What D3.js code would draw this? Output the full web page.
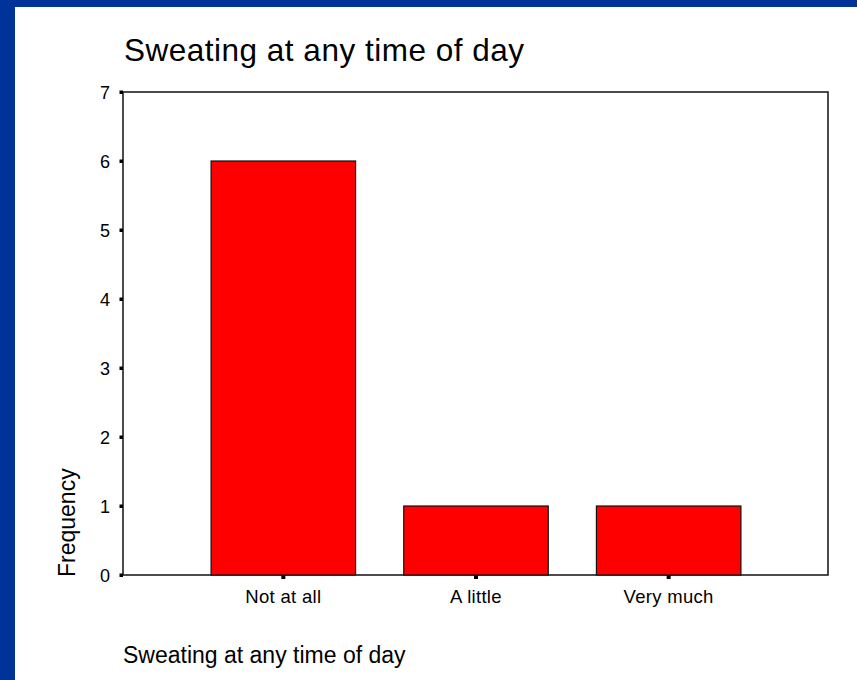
<!DOCTYPE html>
<html>
<head>
<meta charset="utf-8">
<script src="https://cdn.jsdelivr.net/npm/d3@7"></script>
<style>
  html, body { margin: 0; padding: 0; background: #ffffff; }
  svg { display: block; font-family: Arial, "Liberation Sans", sans-serif; }
</style>
</head>
<body>
<svg id="chart" width="857" height="680"></svg>
<script>
// Frequency of sweating responses
const categories = ["Not at all", "A little", "Very much"];
const frequencies = [6, 1, 1];
const yTicks = [0, 1, 2, 3, 4, 5, 6, 7];
const titleText = "Sweating at any time of day";
const xLabelText = "Sweating at any time of day";
const yLabelText = "Frequency";

const svg = d3.select("#chart");
const W = 857, H = 680;

// Blue slide frame along top and left edges
svg.append("rect").attr("x", 0).attr("y", 0).attr("width", W).attr("height", H).attr("fill", "#003399");
svg.append("rect").attr("x", 15).attr("y", 7).attr("width", W - 15).attr("height", H - 7).attr("fill", "#ffffff");

const plot = { left: 123, top: 92, right: 828, bottom: 575 };

const y = d3.scaleLinear().domain([0, 7]).range([plot.bottom, plot.top]);
const x = d3.scaleBand().domain(categories).range([187, 765]).paddingInner(0.25).paddingOuter(0.125);

// Plot frame
svg.append("rect")
  .attr("x", plot.left).attr("y", plot.top)
  .attr("width", plot.right - plot.left).attr("height", plot.bottom - plot.top)
  .attr("fill", "none").attr("stroke", "#111").attr("stroke-width", 1.5);

// Bars
svg.append("g").selectAll("rect")
  .data(categories.map((c, i) => ({ c, v: frequencies[i] })))
  .join("rect")
  .attr("x", d => x(d.c))
  .attr("y", d => y(d.v))
  .attr("width", x.bandwidth())
  .attr("height", d => y(0) - y(d.v))
  .attr("fill", "#ff0000")
  .attr("stroke", "#111")
  .attr("stroke-width", 1.2);

// Y axis: square tick marks and labels
const yAxis = svg.append("g");
yAxis.selectAll("rect").data(yTicks).join("rect")
  .attr("x", plot.left - 3.5).attr("y", d => y(d) - 1.5)
  .attr("width", 3.5).attr("height", 3.5).attr("fill", "#000");
yAxis.selectAll("text").data(yTicks).join("text")
  .attr("x", 110).attr("y", d => y(d) + 6.5)
  .attr("text-anchor", "end").attr("font-size", 18).attr("fill", "#000")
  .text(d => d);

// X axis: square tick marks under each category and labels
const xAxis = svg.append("g");
xAxis.selectAll("rect").data(categories).join("rect")
  .attr("x", d => x(d) + x.bandwidth() / 2 - 2).attr("y", plot.bottom)
  .attr("width", 4).attr("height", 4).attr("fill", "#000");
xAxis.selectAll("text").data(categories).join("text")
  .attr("x", d => x(d) + x.bandwidth() / 2).attr("y", 603)
  .attr("text-anchor", "middle").attr("font-size", 18.5).attr("fill", "#000")
  .attr("letter-spacing", 0.3)
  .text(d => d);

// Title
svg.append("text")
  .attr("x", 124).attr("y", 61)
  .attr("font-size", 31.5).attr("fill", "#000")
  .attr("letter-spacing", 0.5)
  .text(titleText);

// Axis titles
svg.append("text")
  .attr("transform", `translate(75, 577) rotate(-90)`)
  .attr("text-anchor", "start").attr("font-size", 23).attr("fill", "#000")
  .text(yLabelText);

svg.append("text")
  .attr("x", 123).attr("y", 663)
  .attr("font-size", 23).attr("fill", "#000")
  .text(xLabelText);
</script>
</body>
</html>
